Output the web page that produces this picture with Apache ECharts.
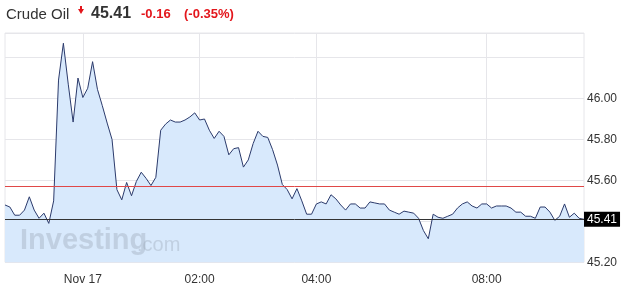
<!DOCTYPE html>
<html><head><meta charset="utf-8">
<script src="https://cdn.jsdelivr.net/npm/echarts@6/dist/echarts.min.js"></script>
<style>html,body{margin:0;padding:0;background:#fff}#c{width:623px;height:290px}</style>
</head><body><div id="c"></div>
<script>
const categories = [
 '22:40','22:45','22:50','22:55','23:00','23:05','23:10','23:15','23:20','23:25','23:30','23:35','23:40','23:45','23:50','23:55',
 '00:00','00:05','00:10','00:15','00:20','00:25','00:30','00:35','00:40','00:45','00:50','00:55',
 '01:00','01:05','01:10','01:15','01:20','01:25','01:30','01:35','01:40','01:45','01:50','01:55',
 '02:00','02:05','02:10','02:15','02:20','02:25','02:30','02:35','02:40','02:45','02:50','02:55',
 '03:00','03:05','03:10','03:15','03:20','03:25','03:30','03:35','03:40','03:45','03:50','03:55',
 '04:00','04:05','04:10','04:15','04:20','04:25','04:30','04:35','04:40','04:45','04:50','04:55',
 '05:00','05:05','05:10','05:15','05:20','05:25','05:30','05:35','05:40','05:45',
 '06:55','07:00','07:05','07:10','07:15','07:20','07:25','07:30','07:35','07:40','07:45','07:50','07:55',
 '08:00','08:05','08:10','08:15','08:20','08:25','08:30','08:35','08:40','08:45','08:50','08:55',
 '09:00','09:05','09:10','09:15','09:20','09:25','09:30','09:35','09:40'
];
const prices = [
 45.48,45.47,45.43,45.43,45.455,45.52,45.455,45.415,45.44,45.39,
 45.50,46.09,46.27,46.07,45.885,46.10,46.005,46.05,46.18,46.045,
 45.965,45.88,45.80,45.555,45.505,45.59,45.525,45.595,45.64,45.61,
 45.575,45.615,45.845,45.875,45.895,45.885,45.885,45.895,45.91,45.93,
 45.895,45.90,45.845,45.805,45.84,45.815,45.725,45.755,45.76,45.665,
 45.70,45.78,45.84,45.815,45.81,45.75,45.675,45.58,45.555,45.51,
 45.56,45.50,45.435,45.435,45.485,45.495,45.485,45.53,45.51,45.48,
 45.455,45.485,45.485,45.465,45.465,45.495,45.49,45.485,45.485,45.455,
 45.445,45.435,45.45,45.445,45.44,45.415,45.355,45.315,45.435,45.42,
 45.415,45.425,45.435,45.465,45.485,45.495,45.475,45.465,45.485,45.485,
 45.465,45.475,45.475,45.475,45.465,45.445,45.445,45.425,45.425,45.415,
 45.47,45.47,45.445,45.405,45.425,45.485,45.42,45.44,45.415,45.41
];
const xTickLabels = {'00:00':'Nov 17','02:00':'02:00','04:00':'04:00','08:00':'08:00'};
const yTickLabels = ['45.20','45.60','45.80','46.00'];
const lastPrice = 45.41;
const prevClose = 45.57;
const header = {name:'Crude Oil', price:'45.41', change:'-0.16', pct:'(-0.35%)'};

const chart = echarts.init(document.getElementById('c'), null, {renderer:'canvas'});
const showX = (i, v) => Object.prototype.hasOwnProperty.call(xTickLabels, v);
chart.setOption({
  animation:false,
  textStyle:{fontFamily:'Liberation Sans, Arial, sans-serif'},
  grid:{left:5, right:39, top:33, bottom:27.7, show:true, borderColor:'#e6e6ea', borderWidth:1, containLabel:false},
  xAxis:{
    type:'category', data:categories, boundaryGap:false,
    axisLine:{show:false}, axisTick:{show:false},
    axisLabel:{interval:showX, formatter:v=>xTickLabels[v]||'', color:'#333', fontSize:12, margin:11},
    splitLine:{show:true, interval:showX, lineStyle:{color:'#e6e6ea', width:1}}
  },
  yAxis:{
    type:'value', position:'right', min:45.2, max:46.32, interval:0.2,
    axisLine:{show:false}, axisTick:{show:false},
    axisLabel:{color:'#333', fontSize:12, margin:3, formatter:v=>{const s=v.toFixed(2);return yTickLabels.includes(s)?s:'';}},
    splitLine:{show:true, lineStyle:{color:'#e6e6ea', width:1}}
  },
  graphic:[
    {type:'text', left:6, top:7, style:{text:header.name, fill:'#333', font:'15px Liberation Sans, Arial, sans-serif'}},
    {type:'polygon', shape:{points:[[78,9],[84,9],[81,14]]}, style:{fill:'#e3161c'}},
    {type:'rect', shape:{x:80,y:6,width:2,height:3}, style:{fill:'#e3161c'}},
    {type:'text', left:91, top:6, style:{text:header.price, fill:'#333', font:'bold 16px Liberation Sans, Arial, sans-serif'}},
    {type:'text', left:141, top:8, style:{text:header.change, fill:'#e3161c', font:'bold 13px Liberation Sans, Arial, sans-serif'}},
    {type:'text', left:184, top:8, style:{text:header.pct, fill:'#e3161c', font:'bold 13px Liberation Sans, Arial, sans-serif'}},
    {type:'text', left:20, top:226, z:10, style:{text:'Investing', fill:'rgba(150,160,175,0.35)', font:'bold 29px Liberation Sans, Arial, sans-serif'}},
    {type:'text', left:137, top:235, z:10, style:{text:'.com', fill:'rgba(150,160,175,0.35)', font:'20px Liberation Sans, Arial, sans-serif'}}
  ],
  series:[{
    type:'line', data:prices, symbol:'none', smooth:false, z:3,
    lineStyle:{color:'#2b3a6b', width:1},
    areaStyle:{color:'#d8e9fc', opacity:1, origin:'start'},
    markLine:{
      symbol:'none', silent:true, animation:false,
      data:[
        {yAxis:prevClose, lineStyle:{color:'#e04848', width:1, type:'solid'}, label:{show:false}},
        {yAxis:lastPrice, lineStyle:{color:'#333', width:1, type:'solid'},
         label:{show:true, position:'end', distance:0, formatter:lastPrice.toFixed(2), color:'#fff', backgroundColor:'#000', fontSize:12, padding:[2,3,1,3]}}
      ]
    }
  }]
});
</script></body></html>
